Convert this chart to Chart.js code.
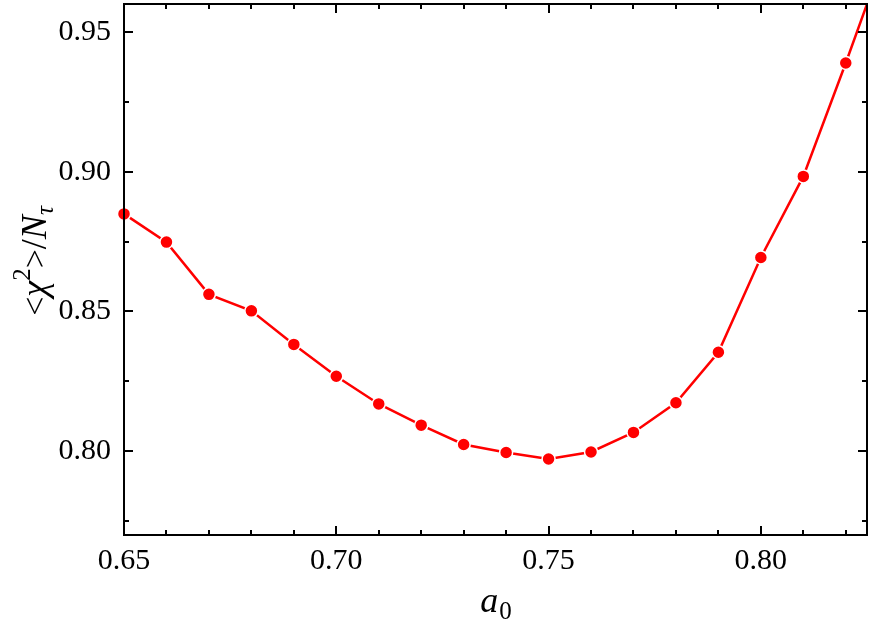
<!DOCTYPE html>
<html>
<head>
<meta charset="utf-8">
<script src="https://cdn.jsdelivr.net/npm/chart.js@4"></script>
<style>
  body { margin: 0; background: #fff; }
  canvas { display: block; }
</style>
</head>
<body>
<canvas id="chart" width="872" height="631"></canvas>
<script>
// data
const a0Values = [0.65, 0.66, 0.67, 0.68, 0.69, 0.70, 0.71, 0.72, 0.73, 0.74,
                  0.75, 0.76, 0.77, 0.78, 0.79, 0.80, 0.81, 0.82, 0.83];
const chiValues = [0.8849, 0.8748, 0.8561, 0.8502, 0.8382, 0.8268, 0.8169, 0.8093, 0.8024, 0.7995,
                   0.7972, 0.7997, 0.8067, 0.8173, 0.8354, 0.8693, 0.8983, 0.9389, 0.9810];
const xTickLabels = ['0.65', '0.70', '0.75', '0.80'];
const yTickLabels = ['0.80', '0.85', '0.90', '0.95'];

const SERIF = '"Liberation Serif", "Times New Roman", serif';

// box frame + inward ticks on all four sides, plus axis titles
const frameTicks = {
    id: 'frameTicks',
    afterDraw(chart) {
        const { ctx, chartArea: a, scales: { x, y } } = chart;
        ctx.save();
        ctx.strokeStyle = '#000';
        ctx.lineWidth = 2;
        ctx.strokeRect(a.left, a.top, a.right - a.left, a.bottom - a.top);

        ctx.beginPath();
        x.ticks.forEach(t => {
            const px = Math.round(x.getPixelForValue(t.value));
            const len = xTickLabels.includes(t.value.toFixed(2)) ? 9 : 5;
            ctx.moveTo(px, a.bottom); ctx.lineTo(px, a.bottom - len);
            ctx.moveTo(px, a.top); ctx.lineTo(px, a.top + len);
        });
        y.ticks.forEach(t => {
            const py = Math.round(y.getPixelForValue(t.value));
            const len = yTickLabels.includes(t.value.toFixed(2)) ? 9 : 5;
            ctx.moveTo(a.left, py); ctx.lineTo(a.left + len, py);
            ctx.moveTo(a.right, py); ctx.lineTo(a.right - len, py);
        });
        ctx.stroke();

        // x title: a_0
        ctx.fillStyle = '#000';
        ctx.textBaseline = 'alphabetic';
        ctx.font = 'italic 36px ' + SERIF;
        const wa = ctx.measureText('a').width;
        ctx.font = '25px ' + SERIF;
        const w0 = ctx.measureText('0').width;
        let cx = (a.left + a.right) / 2 - (wa + w0) / 2;
        ctx.font = 'italic 36px ' + SERIF;
        ctx.fillText('a', cx, 612);
        ctx.font = '25px ' + SERIF;
        ctx.fillText('0', cx + wa + 1, 619);

        // y title: <chi^2>/N_tau
        const parts = [
            { t: '<', f: '34px ', dy: 0 },
            { t: 'χ', f: 'italic 36px ', dy: 0 },
            { t: '2', f: '25px ', dy: -16 },
            { t: '>', f: '34px ', dy: 0 },
            { t: '/', f: '36px ', dy: 0 },
            { t: 'N', f: 'italic 36px ', dy: 0 },
            { t: 'τ', f: 'italic 25px ', dy: 7 }
        ];
        let total = 0;
        parts.forEach(p => { ctx.font = p.f + SERIF; p.w = ctx.measureText(p.t).width; total += p.w; });
        ctx.translate(46, 261);
        ctx.rotate(-Math.PI / 2);
        let pos = -total / 2;
        parts.forEach(p => {
            ctx.font = p.f + SERIF;
            ctx.fillText(p.t, pos, p.dy);
            pos += p.w;
        });
        ctx.restore();
    }
};

const ctx = document.getElementById('chart').getContext('2d');

new Chart(ctx, {
    type: 'scatter',
    data: {
        datasets: [{
            data: a0Values.map((v, i) => ({ x: v, y: chiValues[i] })),
            showLine: true,
            borderColor: '#ff0000',
            borderWidth: 2.5,
            backgroundColor: '#ff0000',
            pointBackgroundColor: '#ff0000',
            pointBorderColor: '#ffffff',
            pointBorderWidth: 1.5,
            pointRadius: 6.5,
            clip: { left: 8, top: 0, right: 0, bottom: 8 }
        }]
    },
    options: {
        responsive: false,
        animation: false,
        layout: { autoPadding: false, padding: { left: 0, right: 5, top: 4, bottom: 0 } },
        plugins: {
            legend: { display: false },
            tooltip: { enabled: false }
        },
        scales: {
            x: {
                type: 'linear',
                min: 0.65,
                max: 0.825,
                grid: { display: false, drawTicks: false },
                border: { display: false },
                ticks: {
                    stepSize: 0.01,
                    includeBounds: false,
                    autoSkip: false,
                    maxRotation: 0,
                    padding: 8,
                    color: '#000',
                    font: { family: SERIF, size: 30 },
                    callback: function(value) {
                        const s = value.toFixed(2);
                        return xTickLabels.includes(s) ? s : '';
                    }
                },
                afterFit: scale => {
                    scale.height = 96;
                    scale.paddingLeft = 0;
                    scale.paddingRight = 0;
                }
            },
            y: {
                type: 'linear',
                min: 0.77,
                max: 0.96,
                grid: { display: false, drawTicks: false },
                border: { display: false },
                ticks: {
                    stepSize: 0.025,
                    includeBounds: false,
                    autoSkip: false,
                    padding: 13,
                    color: '#000',
                    font: { family: SERIF, size: 30 },
                    callback: function(value) {
                        const s = value.toFixed(2);
                        return yTickLabels.includes(s) ? s : '';
                    }
                },
                afterFit: scale => {
                    scale.width = 124;
                    scale.paddingTop = 0;
                    scale.paddingBottom = 0;
                }
            }
        }
    },
    plugins: [frameTicks]
});
</script>
</body>
</html>
